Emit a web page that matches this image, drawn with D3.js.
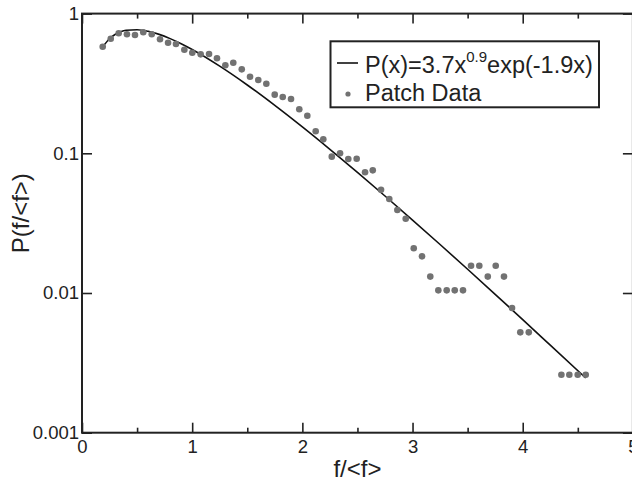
<!DOCTYPE html>
<html>
<head>
<meta charset="utf-8">
<script src="https://cdn.jsdelivr.net/npm/d3@7"></script>
<style>
  html, body { margin: 0; padding: 0; background: #fff; overflow: hidden; }
  text { font-family: "Liberation Sans", Arial, Helvetica, sans-serif; fill: #222; }
</style>
</head>
<body>
<div id="chart"></div>
<script>
// patch data
const patchX = [0.188, 0.261, 0.333, 0.408, 0.481, 0.556, 0.633, 0.708, 0.781, 0.853,
  0.929, 1.001, 1.077, 1.153, 1.225, 1.301, 1.373, 1.450, 1.525, 1.600,
  1.673, 1.749, 1.822, 1.897, 1.972, 2.045, 2.121, 2.190, 2.267, 2.342,
  2.417, 2.493, 2.569, 2.639, 2.714, 2.789, 2.862, 2.938, 3.011, 3.086,
  3.161, 3.234, 3.310, 3.383, 3.458, 3.531, 3.606, 3.683, 3.755, 3.830,
  3.903, 3.978, 4.055, 4.351, 4.423, 4.499, 4.572]
const patchY = [0.579, 0.661, 0.723, 0.711, 0.703, 0.735, 0.711, 0.655, 0.619, 0.606,
  0.551, 0.525, 0.511, 0.514, 0.479, 0.427, 0.445, 0.399, 0.353, 0.335,
  0.315, 0.263, 0.253, 0.245, 0.2065, 0.1858, 0.1437, 0.1259, 0.0946, 0.100,
  0.0910, 0.0915, 0.0731, 0.0755, 0.0549, 0.0471, 0.0393, 0.0340, 0.0209, 0.0183,
  0.0131, 0.01045, 0.01045, 0.01045, 0.01045, 0.01568, 0.01568, 0.0131, 0.01568, 0.0131,
  0.00781, 0.00523, 0.00523, 0.0026, 0.0026, 0.0026, 0.0026]

// fitted curve P(x)=3.7x^0.9 exp(-1.9x), points along the drawn line
const fitX = [0.188, 0.25, 0.3, 0.35, 0.4, 0.5, 0.6, 0.7, 0.8, 0.9, 1.0, 1.25, 1.5, 1.75,
  2.0, 2.25, 2.5, 2.75, 3.0, 3.25, 3.5, 3.75, 4.0, 4.25, 4.572]
const fitY = [0.578, 0.661, 0.708, 0.740, 0.759, 0.767, 0.747, 0.710, 0.662, 0.609, 0.5535,
  0.4206, 0.3083, 0.2202, 0.1545, 0.1068, 0.0730, 0.04948, 0.03328, 0.02224, 0.01479,
  0.009787, 0.006449, 0.004234, 0.002462]

const xMajor = [0, 1, 2, 3, 4, 5]
const xMinor = [0.5, 1.5, 2.5, 3.5, 4.5]
const yTicks = [0.001, 0.01, 0.1, 1]
const yTickLabels = ["0.001", "0.01", "0.1", "1"]

const width = 632
const height = 487
const plotLeft = 82, plotRight = 632.9, plotTop = 13.6, plotBottom = 432.7

const svg = d3.select("#chart")
    .append("svg")
    .attr("width", width)
    .attr("height", height)

const x = d3.scaleLinear().domain([0, 5]).range([plotLeft, plotRight])
const y = d3.scaleLog().domain([0.001, 1]).range([plotBottom, plotTop])

const plotW = plotRight - plotLeft
const plotH = plotBottom - plotTop

// bottom axis
const gx = svg.append("g").attr("transform", `translate(0,${plotBottom})`)
gx.call(d3.axisBottom(x).tickValues(xMajor).tickFormat(d3.format("d"))
    .tickSize(-10).tickPadding(7))
gx.append("g").call(d3.axisBottom(x).tickValues(xMinor).tickFormat("").tickSize(-5))

// top axis
const gt = svg.append("g").attr("transform", `translate(0,${plotTop})`)
gt.call(d3.axisTop(x).tickValues(xMajor).tickFormat("").tickSize(-10))
gt.append("g").call(d3.axisTop(x).tickValues(xMinor).tickFormat("").tickSize(-5))

// left axis
const gy = svg.append("g").attr("transform", `translate(${plotLeft},0)`)
gy.call(d3.axisLeft(y).tickValues(yTicks).tickFormat((d, i) => yTickLabels[i])
    .tickSize(-10).tickPadding(3))

// right axis
const gr = svg.append("g").attr("transform", `translate(${plotRight},0)`)
gr.call(d3.axisRight(y).tickValues(yTicks).tickFormat("").tickSize(-10))

svg.selectAll(".domain").remove()
svg.selectAll(".tick line").attr("stroke", "#222").attr("stroke-width", 1.6)
svg.selectAll(".tick text").attr("font-size", 18.5).attr("fill", "#222")
gx.selectAll(".tick text").attr("dy", "0.71em")

// frame
svg.append("rect")
    .attr("x", plotLeft).attr("y", plotTop)
    .attr("width", plotW).attr("height", plotH)
    .attr("fill", "none")
    .attr("stroke", "#222")
    .attr("stroke-width", 2)

// fit curve
const line = d3.line()
    .x((d, i) => x(fitX[i]))
    .y(d => y(d))
    .curve(d3.curveMonotoneX)

svg.append("path")
    .datum(fitY)
    .attr("d", line)
    .attr("fill", "none")
    .attr("stroke", "#111")
    .attr("stroke-width", 1.6)

// patch data dots
svg.append("g")
    .selectAll("circle")
    .data(patchY)
    .enter()
    .append("circle")
        .attr("cx", (d, i) => x(patchX[i]))
        .attr("cy", d => y(d))
        .attr("r", 3.3)
        .attr("fill", "#727272")

// axis titles
svg.append("text")
    .attr("x", x(2.5))
    .attr("y", 477)
    .attr("text-anchor", "middle")
    .attr("font-size", 24)
    .text("f/<f>")

svg.append("text")
    .attr("transform", `translate(29,${(plotTop + plotBottom) / 2 - 10}) rotate(-90)`)
    .attr("text-anchor", "middle")
    .attr("font-size", 24)
    .text("P(f/<f>)")

// legend
const lg = svg.append("g")
lg.append("rect")
    .attr("x", 330.5).attr("y", 41.3)
    .attr("width", 268.5).attr("height", 66)
    .attr("fill", "#fff")
    .attr("stroke", "#222")
    .attr("stroke-width", 2)

lg.append("line")
    .attr("x1", 337).attr("x2", 358)
    .attr("y1", 63).attr("y2", 63)
    .attr("stroke", "#111")
    .attr("stroke-width", 1.6)

const t1 = lg.append("text")
    .attr("x", 365).attr("y", 72.5)
    .attr("font-size", 23.5)
t1.append("tspan").text("P(x)=3.7x")
t1.append("tspan").attr("dy", -11).attr("font-size", 15).text("0.9")
t1.append("tspan").attr("dy", 11).text("exp(-1.9x)")

lg.append("circle")
    .attr("cx", 348).attr("cy", 94)
    .attr("r", 2.6)
    .attr("fill", "#727272")

lg.append("text")
    .attr("x", 365).attr("y", 101)
    .attr("font-size", 23.5)
    .text("Patch Data")
</script>
</body>
</html>
